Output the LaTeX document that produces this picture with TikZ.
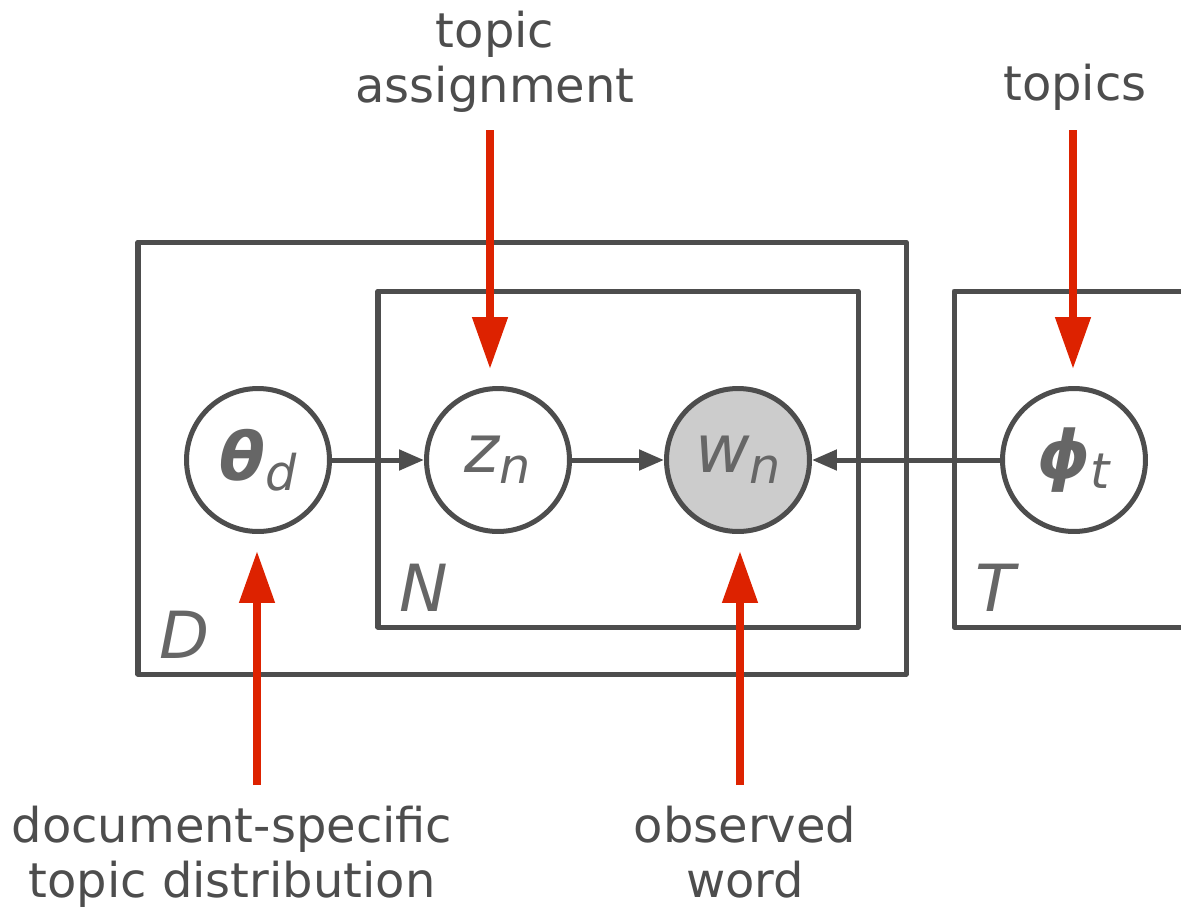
\documentclass[tikz,border=0pt]{standalone}
\usepackage{fontspec}
\setmainfont{DejaVu Sans}
\usepackage{xcolor}
\usetikzlibrary{arrows.meta}
\definecolor{plategray}{HTML}{4D4D4D}
\definecolor{lettergray}{HTML}{666666}
\definecolor{callred}{HTML}{DD2200}
\definecolor{obsfill}{HTML}{CCCCCC}
\newcommand{\rvar}[2]{{\fontsize{38}{38}\selectfont #1}\raisebox{-6pt}{\fontsize{28}{28}\selectfont\itshape #2}}
\tikzset{var/.style = {circle,draw=plategray,line width=2.85pt,fill=white,minimum size=2.86cm,inner sep=0pt,text=lettergray}}
\tikzset{obs/.style = {var,fill=obsfill}}
\tikzset{plate/.style = {draw=plategray,line width=2.85pt,line join=round}}
\tikzset{platelbl/.style = {anchor=base west,inner sep=0pt,text=lettergray,font=\fontsize{37}{37}\selectfont\itshape}}
\tikzset{edge/.style = {draw=plategray,line width=2.85pt,-{Triangle[length=0.5cm,width=0.4cm]}}}
\tikzset{callout/.style = {draw=callred,line width=4.5pt,-{Triangle[length=1.04cm,width=0.68cm]}}}
\tikzset{lbl/.style = {align=center,inner sep=0pt,text=plategray,font=\fontsize{27.3}{31.3}\selectfont}}

\begin{document}
\begin{tikzpicture}[x=0.02cm,y=-0.02cm]
        \useasboundingbox (0,0) rectangle (1181,907);
        % plates
        \draw[plate] (138,242) rectangle (906,674);
        \draw[plate] (378,291) rectangle (858,627);
        \draw[plate] (954,291) rectangle (1200,627);
        \node[platelbl] (plD) at (159,658) {D};
        \node[platelbl] (plN) at (399,611) {N};
        \node[platelbl] (plT) at (975,611) {T};
        % variables
        \node[var] (theta) at (258,460) {\rvar{\bfseries\itshape θ}{d}};
        \node[var] (z) at (498,460) {\rvar{\itshape z}{n}};
        \node[obs] (w) at (738,460) {\rvar{\itshape w}{n}};
        \node[var] (phi) at (1074,460) {\rvar{\bfseries\itshape ϕ}{t}};
        \draw[edge] (theta) -- (z);
        \draw[edge] (z) -- (w);
        \draw[edge] (phi) -- (w);
        % callouts
        \node[lbl,anchor=north] (assign) at (495,10.5) {topic\\assignment};
        \node[lbl,anchor=north] (topics) at (1075,63.5) {topics};
        \node[lbl,anchor=north] (docdist) at (232,806) {document-specific\\topic distribution};
        \node[lbl,anchor=north] (observed) at (745,806) {observed\\word};
        \coordinate (assignTail) at (490,130);
        \coordinate (assignTip) at (490,369);
        \coordinate (topicsTail) at (1073,130);
        \coordinate (topicsTip) at (1073,369);
        \coordinate (docTail) at (257,785);
        \coordinate (docTip) at (257,551);
        \coordinate (obsTail) at (740,785);
        \coordinate (obsTip) at (740,551);
        \draw[callout] (assignTail) -- (assignTip);
        \draw[callout] (topicsTail) -- (topicsTip);
        \draw[callout] (docTail) -- (docTip);
        \draw[callout] (obsTail) -- (obsTip);
    \end{tikzpicture}
\end{document}
